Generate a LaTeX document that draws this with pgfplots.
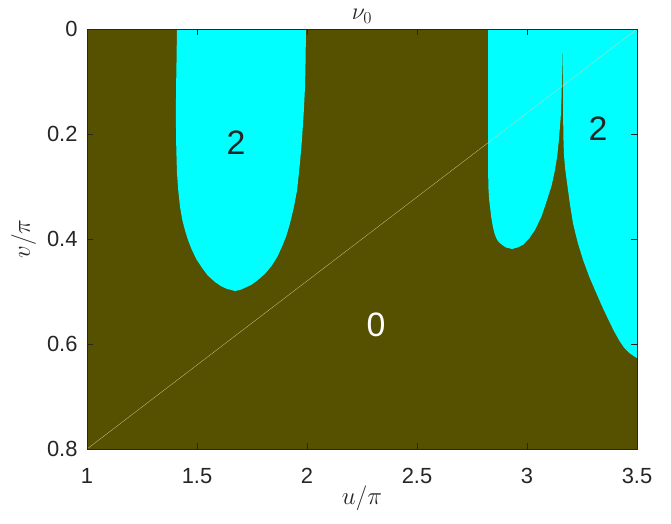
\RequirePackage{fix-cm}
\documentclass[border=0pt]{standalone}
\usepackage{fontspec}
\setmainfont{Liberation Sans}
\usepackage{pgfplots}
\pgfplotsset{compat=1.18}
\definecolor{olivebg}{RGB}{85,81,0}
\definecolor{cyanfill}{RGB}{0,255,255}
\definecolor{axgray}{RGB}{38,38,38}
\begin{document}
\begin{tikzpicture}
\begin{axis}[
  name=ax,
  scale only axis,
  width=550bp, height=420bp,
  xmin=1, xmax=3.5, ymin=0, ymax=0.8,
  y dir=reverse,
  axis background/.style={fill=olivebg},
  axis on top,
  axis line style={axgray, line width=0.5pt},
  tick style={axgray, line width=0.5pt},
  major tick length=6bp,
  tick align=inside,
  xtick={1,1.5,2,2.5,3,3.5},
  xticklabels={1,1.5,2,2.5,3,3.5},
  ytick={0,0.2,0.4,0.6,0.8},
  yticklabels={0,0.2,0.4,0.6,0.8},
  ticklabel style={font=\fontsize{22}{24}\selectfont, text=axgray},
  /pgf/number format/assume math mode=true,
  xlabel={$u/\pi$},
  ylabel={$v/\pi$},
  title={$\nu_0$},
  xlabel style={font=\fontsize{25}{27}\selectfont, text=axgray, yshift=5bp},
  ylabel style={font=\fontsize{25}{27}\selectfont, text=axgray, yshift=4bp},
  title style={font=\fontsize{24}{26}\selectfont, text=axgray, yshift=-4bp},
  xticklabel style={yshift=-16bp},
  yticklabel style={xshift=-6bp},
  clip=true,
]
\addplot[fill=cyanfill, draw=none] coordinates {
(1.409,0) (1.407,0.060) (1.405,0.110) (1.404,0.160) (1.405,0.211) (1.407,0.245) (1.409,0.274)
(1.415,0.308) (1.423,0.339) (1.433,0.363) (1.445,0.383) (1.460,0.403) (1.477,0.421)
(1.498,0.439) (1.523,0.455) (1.550,0.470) (1.582,0.482) (1.610,0.490) (1.636,0.495)
(1.673,0.499) (1.696,0.497) (1.718,0.493) (1.748,0.487) (1.777,0.478) (1.810,0.466)
(1.841,0.450) (1.865,0.434) (1.886,0.415) (1.906,0.394) (1.923,0.370) (1.940,0.340)
(1.955,0.307) (1.968,0.255) (1.977,0.211) (1.985,0.160) (1.991,0.110) (1.994,0.050) (1.995,0)
} -- cycle;
\addplot[fill=cyanfill, draw=none] coordinates {
(2.823,0) (2.823,0.150) (2.823,0.270) (2.825,0.305) (2.828,0.325) (2.832,0.339)
(2.838,0.360) (2.845,0.377) (2.852,0.389) (2.860,0.398) (2.868,0.404)
(2.877,0.408) (2.903,0.416) (2.932,0.419) (2.958,0.416) (2.982,0.411) (3.010,0.399)
(3.036,0.383) (3.065,0.358) (3.091,0.326) (3.112,0.298) (3.127,0.269) (3.138,0.240)
(3.145,0.211) (3.153,0.170) (3.157,0.130) (3.159,0.090) (3.160,0.040)
(3.162,0.050) (3.163,0.090) (3.164,0.130) (3.165,0.200) (3.168,0.240) (3.174,0.268) (3.182,0.293)
(3.195,0.333) (3.209,0.370) (3.230,0.406) (3.255,0.440) (3.283,0.472) (3.312,0.500)
(3.340,0.527) (3.368,0.552) (3.395,0.575) (3.420,0.594) (3.443,0.608) (3.465,0.617) (3.485,0.623)
(3.5,0.627) (3.5,0)
} -- cycle;
\addplot[color={rgb,255:red,215;green,215;blue,170}, line width=0.25pt] coordinates {(1,0.8) (3.5,0)};
\node[font=\fontsize{34}{36}\selectfont, text=axgray] at (axis cs:1.677,0.217) {2};
\node[font=\fontsize{34}{36}\selectfont, text=axgray] at (axis cs:3.323,0.189) {2};
\node[font=\fontsize{34}{36}\selectfont, text=white] at (axis cs:2.314,0.564) {0};
\end{axis}
\pgfresetboundingbox
\path (ax.south west) ++(-87bp,-75bp) rectangle ++(671bp,524bp);
\end{tikzpicture}
\end{document}
